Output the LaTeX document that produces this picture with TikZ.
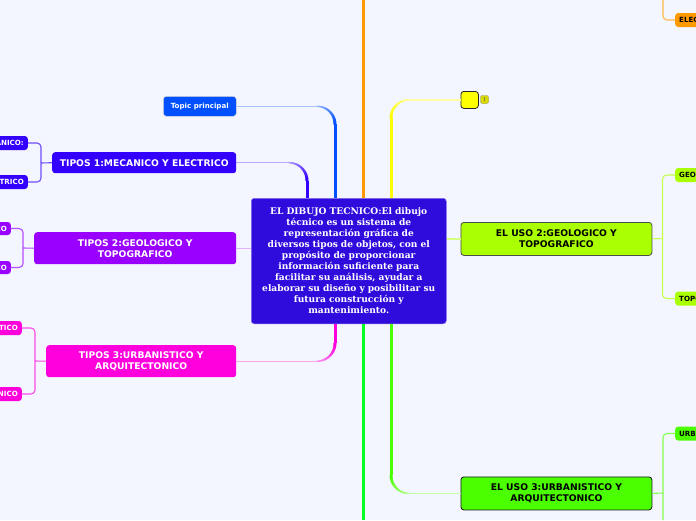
\documentclass[tikz,border=0pt]{standalone}
\usepackage{fontspec}
\setmainfont{DejaVu Sans}
\newfontfamily\serifb{DejaVu Serif}[BoldFont={DejaVu Serif Bold}]
\usetikzlibrary{calc}
\definecolor{bgc}{HTML}{F3F6FF}
\definecolor{ccen}{HTML}{300CDC}
\definecolor{ctop}{HTML}{0050FF}
\definecolor{cone}{HTML}{3300FF}
\definecolor{ctwo}{HTML}{9900FF}
\definecolor{cthr}{HTML}{FF00DD}
\definecolor{corg}{HTML}{FF9900}
\definecolor{cyel}{HTML}{FFFF00}
\definecolor{clim}{HTML}{AAFF00}
\definecolor{cgrn}{HTML}{4CFF00}
\definecolor{cmid}{HTML}{00FF22}
\tikzset{
  base/.style={rounded corners=3pt,inner sep=0pt,align=center,font=\bfseries,anchor=north west},
  main/.style={base,fill=#1,text=white,font=\fontsize{9.2}{11}\selectfont\bfseries},
  mainr/.style={base,fill=#1,text=black,draw=black!70,line width=.8pt,font=\fontsize{9.2}{11}\selectfont\bfseries},
  subl/.style={rounded corners=3pt,fill=#1,text=white,anchor=east,inner xsep=4pt,inner ysep=0pt,minimum height=14pt,font=\fontsize{7.1}{8}\selectfont\bfseries},
  subr/.style={rounded corners=3pt,fill=#1,text=black,anchor=west,inner xsep=4pt,inner ysep=0pt,minimum height=14pt,font=\fontsize{7.1}{8}\selectfont\bfseries},
  brk/.style={draw=#1!70,line width=1.1pt,rounded corners=4pt},
}
% colour, start, end, horizontal direction, vertical direction: a line that grows from thin and pale to thick and full
\newcommand{\taper}[5]{%
  \coordinate (cnr) at (#2 -| #3);
  \draw[#1!35,line width=1.4pt] (#2) -- ($(cnr)+(#4*-18,0)$);
  \foreach \ang in {0,6,...,84}{%
    \pgfmathsetmacro{\angb}{\ang+6}%
    \pgfmathsetmacro{\wid}{1.4+1.6*\angb/90}%
    \pgfmathsetmacro{\mixv}{int(35+65*\angb/90)}%
    \draw[#1!\mixv,line width=\wid pt,line cap=round]
      ($(cnr)+({-#4*18*(1-sin(\ang))},{#5*18*(1-cos(\ang))})$) --
      ($(cnr)+({-#4*18*(1-sin(\angb))},{#5*18*(1-cos(\angb))})$);
  }
  \draw[#1,line width=3pt] ($(cnr)+(0,#5*18)$) -- (#3);
}
\begin{document}
\begin{tikzpicture}[x=1pt,y=-1pt]
\clip (0,0) rectangle (696,520);
\useasboundingbox (0,0) rectangle (696,520);
\fill[bgc] (0,0) rectangle (696,520);

% central topic
\node[base,fill=ccen,draw=ccen!60,line width=.5pt,text=white,minimum width=195pt,minimum height=125.5pt,text width=190pt,font=\serifb\fontsize{9.1}{11}\selectfont\bfseries] (cen) at (251,198)
  {EL DIBUJO TECNICO:El dibujo\\técnico es un sistema de\\representación gráfica de\\diversos tipos de objetos, con el\\propósito de proporcionar\\información suficiente para\\facilitar su análisis, ayudar a\\elaborar su diseño y posibilitar su\\futura construcción y\\mantenimiento.};

% left branches
\node[base,fill=ctop,draw=white!70!gray,line width=.6pt,text=white,minimum width=73pt,minimum height=20pt,font=\fontsize{7.1}{8}\selectfont\bfseries] (topic) at (163,96) {Topic principal};
\node[main=cone,minimum width=184pt,minimum height=21pt] (tone) at (52,152) {TIPOS 1:MECANICO Y ELECTRICO};
\node[main=ctwo,minimum width=202pt,minimum height=32pt] (ttwo) at (34,232) {TIPOS 2:GEOLOGICO Y\\TOPOGRAFICO};
\node[main=cthr,minimum width=190pt,minimum height=32pt] (tthr) at (46,345) {TIPOS 3:URBANISTICO Y\\ARQUITECTONICO};

\node[subl=cone] (s1a) at (28,143) {MECANICO:};
\node[subl=cone] (s1b) at (28,182) {ELECTRICO};
\node[subl=ctwo,minimum height=13pt] (s2a) at (11,228.5) {GEOLOGICO};
\node[subl=ctwo,minimum height=13pt] (s2b) at (11,267.5) {TOPOGRAFICO};
\node[subl=cthr] (s3a) at (22,328) {URBANISTICO};
\node[subl=cthr] (s3b) at (22,394) {ARQUITECTONICO};

% right branches
\node[base,fill=cyel,draw=black!85,line width=.8pt,minimum width=17.5pt,minimum height=17pt] (blank) at (460.5,91) {};
\node[fill=cyel!85!black,draw=black!35,line width=.4pt,rounded corners=2.5pt,minimum size=8.5pt,inner sep=0pt,font=\fontsize{5}{6}\selectfont\bfseries,text=black!60] (badge) at (484.5,99.5) {!};
\node[mainr=clim,minimum width=191pt,minimum height=33pt] (utwo) at (460.5,222) {EL USO 2:GEOLOGICO Y\\TOPOGRAFICO};
\node[mainr=cgrn,minimum width=191pt,minimum height=33pt,draw=black!90] (uthr) at (460.5,476.5) {EL USO 3:URBANISTICO Y\\ARQUITECTONICO};

\node[subr=corg] (r1) at (675,20) {ELECTRICO};
\node[subr=clim] (r2a) at (675,175) {GEOLOGICO};
\node[subr=clim] (r2b) at (675,298.5) {TOPOGRAFICO};
\node[subr=cgrn] (r3a) at (675,433.5) {URBANISTICO};

% free ends of connectors
\coordinate (topicend) at (335,198);
\coordinate (oneend) at (307,198);
\coordinate (threeend) at (335,324);
\coordinate (yelend) at (391,198);
\coordinate (grnend) at (391,324);
\coordinate (orgtop) at (363,0);
\coordinate (orgend) at (363,198);
\coordinate (midend) at (363,324);
\coordinate (midbot) at (363,520);
\coordinate (r1top) at (663,0);
\coordinate (r3bot) at (663,520);

% main connectors
\taper{ctop}{topic.east}{topicend}{1}{1}
\taper{cone}{tone.east}{oneend}{1}{1}
\taper{cthr}{tthr.east}{threeend}{1}{-1}
\taper{cyel}{blank.west}{yelend}{-1}{1}
\taper{cgrn}{uthr.west}{grnend}{-1}{-1}
\draw[ctwo!30,line width=1.4pt] (ttwo.east) -- (ttwo.east -| cen.west);
\draw[clim!50,line width=1.4pt] (utwo.west) -- (utwo.west -| cen.east);
\draw[corg,line width=3pt] (orgtop) -- (orgend);
\draw[cmid,line width=3pt] (midend) -- (midbot);

% sub connectors
\draw[brk=cone] (s1a.east) -| (41,163) |- (s1b.east);
\draw[brk=cone] (tone.west) -- (41,163);
\draw[brk=ctwo] (s2a.east) -| (23,248) |- (s2b.east);
\draw[brk=ctwo] (ttwo.west) -- (23,248);
\draw[brk=cthr] (s3a.east) -| (35,361) |- (s3b.east);
\draw[brk=cthr] (tthr.west) -- (35,361);
\draw[brk=clim] (r2a.west) -| (662.5,238) |- (r2b.west);
\draw[brk=clim] (utwo.east) -- (662.5,238.5);
\draw[brk=cgrn] (r3a.west) -| (r3bot);
\draw[brk=cgrn] (uthr.east) -- (663,493);
\draw[brk=corg] (r1.west) -| (r1top);
\end{tikzpicture}
\end{document}
